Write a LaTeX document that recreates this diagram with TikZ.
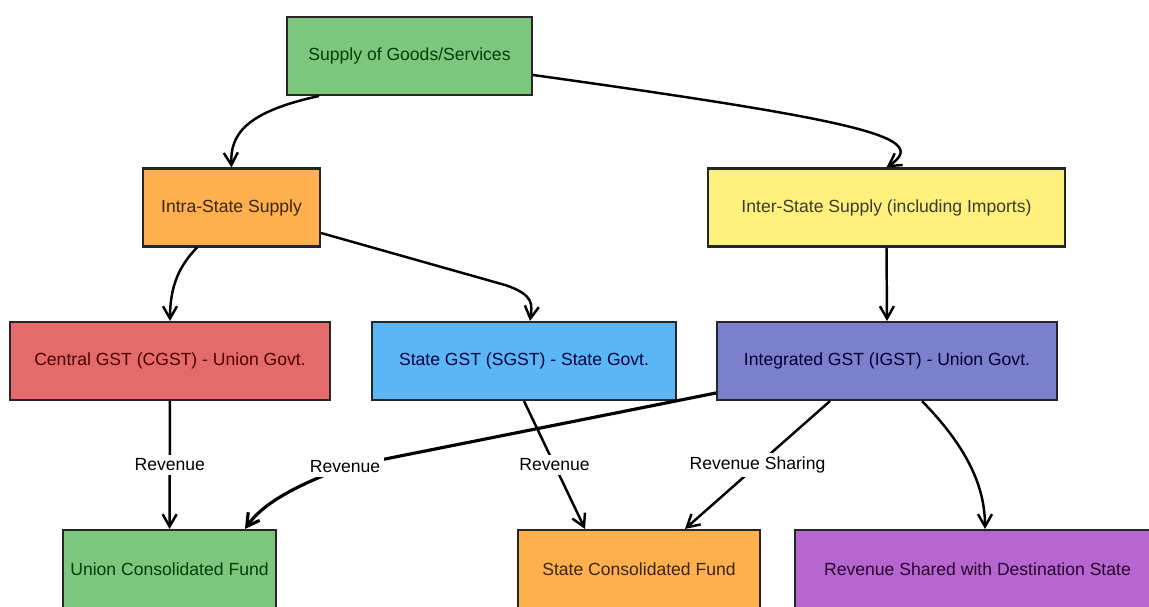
\documentclass[tikz,border=0pt]{standalone}
\usepackage{fontspec}
\setmainfont{Liberation Sans}
\usetikzlibrary{arrows.meta}

\definecolor{goodsgreen}{HTML}{7DC67E}
\definecolor{intraorange}{HTML}{FDB04D}
\definecolor{interyellow}{HTML}{FEF07C}
\definecolor{cgstred}{HTML}{E46B6B}
\definecolor{sgstblue}{HTML}{5BB6F5}
\definecolor{igstblue}{HTML}{7A80CB}
\definecolor{sharepurple}{HTML}{B567CF}

\begin{document}
\begin{tikzpicture}[x=0.02cm, y=-0.02cm,
    >={Straight Barb[length=7pt,width=8pt]},
    box/.style={draw=black!85, line width=1.2pt, minimum height=1.56cm, inner sep=0pt},
    flow/.style={->, line width=1.4pt},
    tag/.style={fill=white, inner sep=2pt}]
    \useasboundingbox (0,0) rectangle (1149,607);

    \node[box, fill=goodsgreen, text=green!25!black, minimum width=4.9cm] (sup) at (409.5,56) {Supply of Goods/Services};
    \node[box, fill=intraorange, text=brown!30!black, minimum width=3.54cm] (intra) at (231.5,207.5) {Intra-State Supply};
    \node[box, fill=interyellow, text=olive!25!black, minimum width=7.14cm] (inter) at (886.5,207.5) {Inter-State Supply (including Imports)};
    \node[box, fill=cgstred, text=red!30!black, minimum width=6.4cm] (cgst) at (170,361) {Central GST (CGST) - Union Govt.};
    \node[box, fill=sgstblue, text=blue!25!black, minimum width=6.08cm] (sgst) at (524,361) {State GST (SGST) - State Govt.};
    \node[box, fill=igstblue, text=blue!20!black, minimum width=6.8cm] (igst) at (887,361) {Integrated GST (IGST) - Union Govt.};
    \node[box, fill=goodsgreen, text=green!25!black, minimum width=4.26cm] (union) at (169.5,569) {Union Consolidated Fund};
    \node[box, fill=intraorange, text=brown!30!black, minimum width=4.84cm] (state) at (639,569) {State Consolidated Fund};
    \node[box, fill=sharepurple, text=violet!35!black, minimum width=7.3cm] (shared) at (977.5,569) {Revenue Shared with Destination State};

    \draw[flow] ([xshift=0.66cm]sup.south west) .. controls (245,112) and (230,135) .. (intra.north);
    \draw[flow] ([yshift=-0.38cm]sup.east) .. controls (870,122) and (930,138) .. (inter.north);
    \draw[flow] ([xshift=-0.69cm]intra.south) .. controls (180,265) and (170,285) .. (cgst.north);
    \draw[flow] ([yshift=-0.51cm]intra.east) -- (505,285) .. controls (535,295) and (532,305) .. ([xshift=0.12cm]sgst.north);
    \draw[flow] (inter.south) -- (igst.north);

    \draw[flow] (cgst) -- node[tag]{Revenue} (union);
    \draw[flow, line width=1.8pt] ([yshift=-0.64cm]igst.west) -- (345,467) node[tag]{Revenue}
        .. controls (290,488) and (262,505) .. ([xshift=1.51cm]union.north);
    \draw[flow] (sgst.south) -- node[tag]{Revenue} ([xshift=-1.08cm]state.north);
    \draw[flow] ([xshift=-1.14cm]igst.south) -- node[tag]{Revenue Sharing} ([xshift=0.92cm]state.north);
    \draw[flow] ([xshift=0.7cm]igst.south) .. controls (960,440) and (985,480) .. ([xshift=0.15cm]shared.north);
\end{tikzpicture}
\end{document}
